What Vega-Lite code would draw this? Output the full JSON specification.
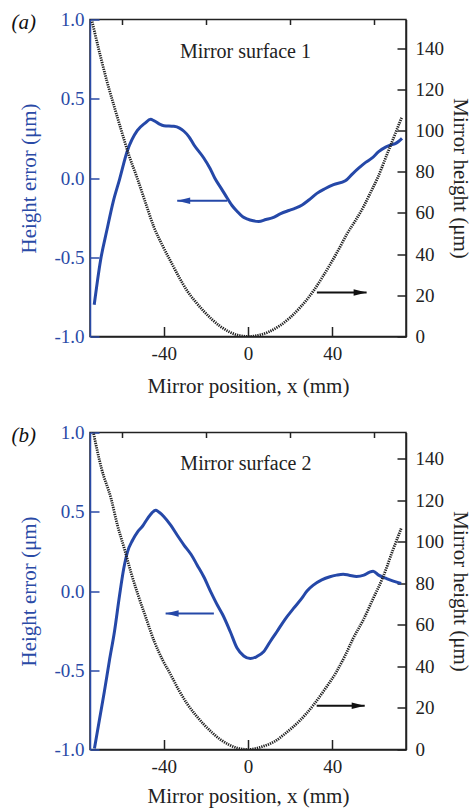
{
  "$schema": "https://vega.github.io/schema/vega-lite/v6.json",
  "padding": {"left": 10, "top": 9.5, "right": 0, "bottom": 0},
  "spacing": 25,
  "config": {
    "font": "Liberation Serif",
    "view": {"stroke": "#222", "strokeWidth": 1.5},
    "axis": {"grid": false, "labelFont": "Liberation Serif", "titleFont": "Liberation Serif", "labelFontSize": 19, "titleFontSize": 21, "titleFontWeight": "normal", "labelColor": "#222", "titleColor": "#222", "domainColor": "#222", "tickColor": "#222", "domainWidth": 1.5, "tickWidth": 1.5},
    "title": {"font": "Liberation Serif", "fontSize": 21, "fontWeight": "normal", "fontStyle": "italic", "color": "#111", "anchor": "start", "frame": "bounds"}
  },
  "datasets": {
    "errA": [
      {"x": -73, "v": -0.8}, {"x": -70, "v": -0.52}, {"x": -67, "v": -0.33}, {"x": -64, "v": -0.15}, {"x": -61, "v": -0.01},
      {"x": -57.3, "v": 0.17}, {"x": -52.5, "v": 0.3}, {"x": -49, "v": 0.345}, {"x": -46.2, "v": 0.37}, {"x": -44.7, "v": 0.362},
      {"x": -42, "v": 0.34}, {"x": -39.9, "v": 0.33}, {"x": -35.2, "v": 0.326}, {"x": -32.5, "v": 0.315}, {"x": -30.4, "v": 0.295},
      {"x": -28, "v": 0.26}, {"x": -25.7, "v": 0.21}, {"x": -21, "v": 0.126}, {"x": -18, "v": 0.06}, {"x": -15.8, "v": 0.0},
      {"x": -12.5, "v": -0.07}, {"x": -9.9, "v": -0.126}, {"x": -7.5, "v": -0.175}, {"x": -5.2, "v": -0.21}, {"x": -2.5, "v": -0.245},
      {"x": -0.5, "v": -0.258}, {"x": 2.5, "v": -0.27}, {"x": 5.1, "v": -0.274}, {"x": 8.5, "v": -0.262}, {"x": 11.5, "v": -0.252},
      {"x": 15.5, "v": -0.225}, {"x": 19.4, "v": -0.205}, {"x": 22.5, "v": -0.19}, {"x": 25.7, "v": -0.17}, {"x": 28.9, "v": -0.139},
      {"x": 32.7, "v": -0.097}, {"x": 36.5, "v": -0.068}, {"x": 40.6, "v": -0.042}, {"x": 46.2, "v": -0.018}, {"x": 49.5, "v": 0.025},
      {"x": 52.8, "v": 0.065}, {"x": 56, "v": 0.1}, {"x": 58.8, "v": 0.125}, {"x": 62, "v": 0.166}, {"x": 65.3, "v": 0.195},
      {"x": 67.6, "v": 0.207}, {"x": 69.9, "v": 0.217}, {"x": 71.6, "v": 0.232}, {"x": 73.1, "v": 0.25}
    ],
    "htA": [
      {"x": -74, "h": 153}, {"x": -70, "h": 136}, {"x": -66.7, "h": 123}, {"x": -63.3, "h": 111}, {"x": -60.4, "h": 101},
      {"x": -56.5, "h": 88}, {"x": -52.5, "h": 76.7}, {"x": -48.5, "h": 64.5}, {"x": -44.6, "h": 53}, {"x": -40.5, "h": 44},
      {"x": -36.8, "h": 36.7}, {"x": -32.8, "h": 29}, {"x": -28.9, "h": 22.2}, {"x": -25, "h": 17}, {"x": -21, "h": 12.3},
      {"x": -17, "h": 8.2}, {"x": -13.1, "h": 4.9}, {"x": -9, "h": 2.3}, {"x": -5, "h": 0.7}, {"x": 0, "h": 0},
      {"x": 5.8, "h": 0.8}, {"x": 10, "h": 2.3}, {"x": 15.3, "h": 5.4}, {"x": 20, "h": 9.2}, {"x": 25, "h": 14.4},
      {"x": 31.1, "h": 22.2}, {"x": 35, "h": 28.3}, {"x": 39, "h": 35}, {"x": 42.9, "h": 42}, {"x": 46.9, "h": 49.7},
      {"x": 50.8, "h": 56}, {"x": 54.8, "h": 63}, {"x": 58.2, "h": 70}, {"x": 61.5, "h": 77}, {"x": 65.8, "h": 88},
      {"x": 69.7, "h": 98}, {"x": 72.9, "h": 106.3}
    ],
    "errB": [
      {"x": -72.9, "v": -0.994}, {"x": -70.5, "v": -0.81}, {"x": -68.2, "v": -0.636}, {"x": -65.8, "v": -0.44}, {"x": -63.4, "v": -0.257},
      {"x": -61, "v": -0.03}, {"x": -59, "v": 0.14}, {"x": -57.2, "v": 0.247}, {"x": -54.8, "v": 0.32}, {"x": -52.4, "v": 0.373},
      {"x": -50, "v": 0.41}, {"x": -47.7, "v": 0.457}, {"x": -45.5, "v": 0.495}, {"x": -43.8, "v": 0.51}, {"x": -42, "v": 0.495},
      {"x": -40, "v": 0.47}, {"x": -36.7, "v": 0.415}, {"x": -33.5, "v": 0.35}, {"x": -30.4, "v": 0.29}, {"x": -27, "v": 0.23},
      {"x": -24.1, "v": 0.163}, {"x": -21, "v": 0.09}, {"x": -17.5, "v": -0.01}, {"x": -14.5, "v": -0.09}, {"x": -12, "v": -0.15},
      {"x": -8.4, "v": -0.257}, {"x": -5.2, "v": -0.36}, {"x": -2, "v": -0.41}, {"x": 1.1, "v": -0.426}, {"x": 4, "v": -0.415},
      {"x": 7.4, "v": -0.384}, {"x": 10.5, "v": -0.32}, {"x": 13.7, "v": -0.257}, {"x": 17.5, "v": -0.18}, {"x": 21.6, "v": -0.11},
      {"x": 25.5, "v": -0.047}, {"x": 28, "v": 0.0}, {"x": 31, "v": 0.037}, {"x": 35, "v": 0.07}, {"x": 38.9, "v": 0.09},
      {"x": 42, "v": 0.1}, {"x": 45.2, "v": 0.106}, {"x": 48, "v": 0.1}, {"x": 51.5, "v": 0.092}, {"x": 55, "v": 0.1},
      {"x": 57.5, "v": 0.118}, {"x": 59.4, "v": 0.125}, {"x": 62, "v": 0.1}, {"x": 65.7, "v": 0.079}, {"x": 69, "v": 0.062},
      {"x": 72.7, "v": 0.047}
    ],
    "htB": [
      {"x": -73.5, "h": 153}, {"x": -69.5, "h": 135}, {"x": -65, "h": 120.7}, {"x": -62, "h": 108}, {"x": -58.7, "h": 96.6},
      {"x": -55.5, "h": 85}, {"x": -52.4, "h": 75}, {"x": -48.5, "h": 63.5}, {"x": -44.5, "h": 52}, {"x": -40.5, "h": 43},
      {"x": -36.7, "h": 36}, {"x": -32.8, "h": 28.5}, {"x": -28.9, "h": 22}, {"x": -25, "h": 16.8}, {"x": -21, "h": 12.1},
      {"x": -17, "h": 8.1}, {"x": -13.1, "h": 4.8}, {"x": -9, "h": 2.3}, {"x": -5, "h": 0.7}, {"x": 0, "h": 0},
      {"x": 7.4, "h": 1.6}, {"x": 12.5, "h": 3.8}, {"x": 18.4, "h": 8.3}, {"x": 24.5, "h": 13.8}, {"x": 31, "h": 21.3},
      {"x": 36.5, "h": 29}, {"x": 42, "h": 37.4}, {"x": 46, "h": 45}, {"x": 49.9, "h": 53.4}, {"x": 54.8, "h": 62.5},
      {"x": 59.4, "h": 72.6}, {"x": 64.1, "h": 83}, {"x": 68.8, "h": 96}, {"x": 72.7, "h": 106.3}
    ],
    "arrLA": [{"x": -33.6, "x2": -9.9, "v": -0.143}],
    "arrRA": [{"x": 56.3, "x2": 32.7, "h": 21.4}],
    "arrLB": [{"x": -39.1, "x2": -16.2, "v": -0.142}],
    "arrRB": [{"x": 55.4, "x2": 32.6, "h": 21}],
    "lblA": [{"x": -1.2, "v": 0.757, "label": "Mirror surface 1"}],
    "lblB": [{"x": -1.0, "v": 0.762, "label": "Mirror surface 2"}]
  },
  "vconcat": [
    {
      "width": 316, "height": 317,
      "title": {"text": "(a)", "dx": -7, "dy": 26},
      "layer": [
        {
          "layer": [
            {"data": {"name": "errA"}, "mark": {"type": "line", "color": "#2548a8", "strokeWidth": 3, "interpolate": "monotone", "clip": true},
             "encoding": {
               "x": {"field": "x", "type": "quantitative", "scale": {"domain": [-75, 75], "nice": false, "zero": false},
                     "axis": {"values": [-40, 0, 40], "tickSize": -10, "labelPadding": 18, "title": "Mirror position, x (mm)", "titlePadding": 11.5, "labelExpr": "(datum.value < 0 ? '-' : '') + format(abs(datum.value), 'd')"}},
               "y": {"field": "v", "type": "quantitative", "scale": {"domain": [-1, 1], "nice": false},
                     "axis": {"orient": "left", "values": [-1, -0.5, 0, 0.5, 1], "tickSize": -9, "labelPadding": 15, "title": "Height error (μm)", "titlePadding": 14.5, "labelColor": "#2a4aa6", "titleColor": "#2a4aa6", "domainColor": "#2a4aa6", "tickColor": "#2a4aa6", "labelExpr": "(datum.value < 0 ? '-' : '') + format(abs(datum.value), '.1f')"}}
             }},
            {"data": {"name": "arrLA"}, "mark": {"type": "rule", "color": "#2548a8", "strokeWidth": 2},
             "encoding": {"x": {"field": "x", "type": "quantitative"}, "x2": {"field": "x2"}, "y": {"field": "v", "type": "quantitative"}}},
            {"data": {"name": "arrLA"}, "mark": {"type": "point", "shape": "M 0 0 L 2 -0.5 L 2 0.5 Z", "filled": true, "opacity": 1, "color": "#2548a8", "size": 169},
             "encoding": {"x": {"field": "x", "type": "quantitative"}, "y": {"field": "v", "type": "quantitative"}}},
            {"data": {"name": "lblA"}, "mark": {"type": "text", "font": "Liberation Serif", "fontSize": 20, "color": "#222", "baseline": "alphabetic", "align": "center"},
             "encoding": {"x": {"field": "x", "type": "quantitative"}, "y": {"field": "v", "type": "quantitative"}, "text": {"field": "label"}}}
          ]
        },
        {
          "layer": [
            {"data": {"name": "htA"}, "mark": {"type": "line", "color": "#222", "strokeWidth": 2.8, "strokeDash": [1.3, 1], "interpolate": "monotone", "clip": true},
             "encoding": {
               "x": {"field": "x", "type": "quantitative", "scale": {"domain": [-75, 75], "nice": false, "zero": false},
                     "axis": {"values": [-60, -20, 20, 60], "tickSize": -5, "labels": false, "domain": false, "title": null}},
               "y": {"field": "h", "type": "quantitative", "scale": {"domain": [0, 154], "nice": false},
                     "axis": {"orient": "right", "values": [0, 20, 40, 60, 80, 100, 120, 140], "tickSize": -9, "labelPadding": 18, "title": "Mirror height (μm)", "titlePadding": 6}}
             }},
            {"data": {"name": "arrRA"}, "mark": {"type": "rule", "color": "#111", "strokeWidth": 2},
             "encoding": {"x": {"field": "x", "type": "quantitative"}, "x2": {"field": "x2"}, "y": {"field": "h", "type": "quantitative"}}},
            {"data": {"name": "arrRA"}, "mark": {"type": "point", "shape": "M 0 0 L -2 -0.5 L -2 0.5 Z", "filled": true, "opacity": 1, "color": "#111", "size": 169},
             "encoding": {"x": {"field": "x", "type": "quantitative"}, "y": {"field": "h", "type": "quantitative"}}}
          ]
        }
      ],
      "resolve": {"scale": {"y": "independent"}, "axis": {"x": "independent"}}
    },
    {
      "width": 316, "height": 317,
      "title": {"text": "(b)", "dx": -7, "dy": 26},
      "layer": [
        {
          "layer": [
            {"data": {"name": "errB"}, "mark": {"type": "line", "color": "#2548a8", "strokeWidth": 3, "interpolate": "monotone", "clip": true},
             "encoding": {
               "x": {"field": "x", "type": "quantitative", "scale": {"domain": [-75, 75], "nice": false, "zero": false},
                     "axis": {"values": [-40, 0, 40], "tickSize": -10, "labelPadding": 18, "title": "Mirror position, x (mm)", "titlePadding": 8.5, "labelExpr": "(datum.value < 0 ? '-' : '') + format(abs(datum.value), 'd')"}},
               "y": {"field": "v", "type": "quantitative", "scale": {"domain": [-1, 1], "nice": false},
                     "axis": {"orient": "left", "values": [-1, -0.5, 0, 0.5, 1], "tickSize": -9, "labelPadding": 15, "title": "Height error (μm)", "titlePadding": 14.5, "labelColor": "#2a4aa6", "titleColor": "#2a4aa6", "domainColor": "#2a4aa6", "tickColor": "#2a4aa6", "labelExpr": "(datum.value < 0 ? '-' : '') + format(abs(datum.value), '.1f')"}}
             }},
            {"data": {"name": "arrLB"}, "mark": {"type": "rule", "color": "#2548a8", "strokeWidth": 2},
             "encoding": {"x": {"field": "x", "type": "quantitative"}, "x2": {"field": "x2"}, "y": {"field": "v", "type": "quantitative"}}},
            {"data": {"name": "arrLB"}, "mark": {"type": "point", "shape": "M 0 0 L 2 -0.5 L 2 0.5 Z", "filled": true, "opacity": 1, "color": "#2548a8", "size": 169},
             "encoding": {"x": {"field": "x", "type": "quantitative"}, "y": {"field": "v", "type": "quantitative"}}},
            {"data": {"name": "lblB"}, "mark": {"type": "text", "font": "Liberation Serif", "fontSize": 20, "color": "#222", "baseline": "alphabetic", "align": "center"},
             "encoding": {"x": {"field": "x", "type": "quantitative"}, "y": {"field": "v", "type": "quantitative"}, "text": {"field": "label"}}}
          ]
        },
        {
          "layer": [
            {"data": {"name": "htB"}, "mark": {"type": "line", "color": "#222", "strokeWidth": 2.8, "strokeDash": [1.3, 1], "interpolate": "monotone", "clip": true},
             "encoding": {
               "x": {"field": "x", "type": "quantitative", "scale": {"domain": [-75, 75], "nice": false, "zero": false},
                     "axis": {"values": [-60, -20, 20, 60], "tickSize": -5, "labels": false, "domain": false, "title": null}},
               "y": {"field": "h", "type": "quantitative", "scale": {"domain": [0, 152.5], "nice": false},
                     "axis": {"orient": "right", "values": [0, 20, 40, 60, 80, 100, 120, 140], "tickSize": -9, "labelPadding": 18, "title": "Mirror height (μm)", "titlePadding": 6}}
             }},
            {"data": {"name": "arrRB"}, "mark": {"type": "rule", "color": "#111", "strokeWidth": 2},
             "encoding": {"x": {"field": "x", "type": "quantitative"}, "x2": {"field": "x2"}, "y": {"field": "h", "type": "quantitative"}}},
            {"data": {"name": "arrRB"}, "mark": {"type": "point", "shape": "M 0 0 L -2 -0.5 L -2 0.5 Z", "filled": true, "opacity": 1, "color": "#111", "size": 169},
             "encoding": {"x": {"field": "x", "type": "quantitative"}, "y": {"field": "h", "type": "quantitative"}}}
          ]
        }
      ],
      "resolve": {"scale": {"y": "independent"}, "axis": {"x": "independent"}}
    }
  ]
}
